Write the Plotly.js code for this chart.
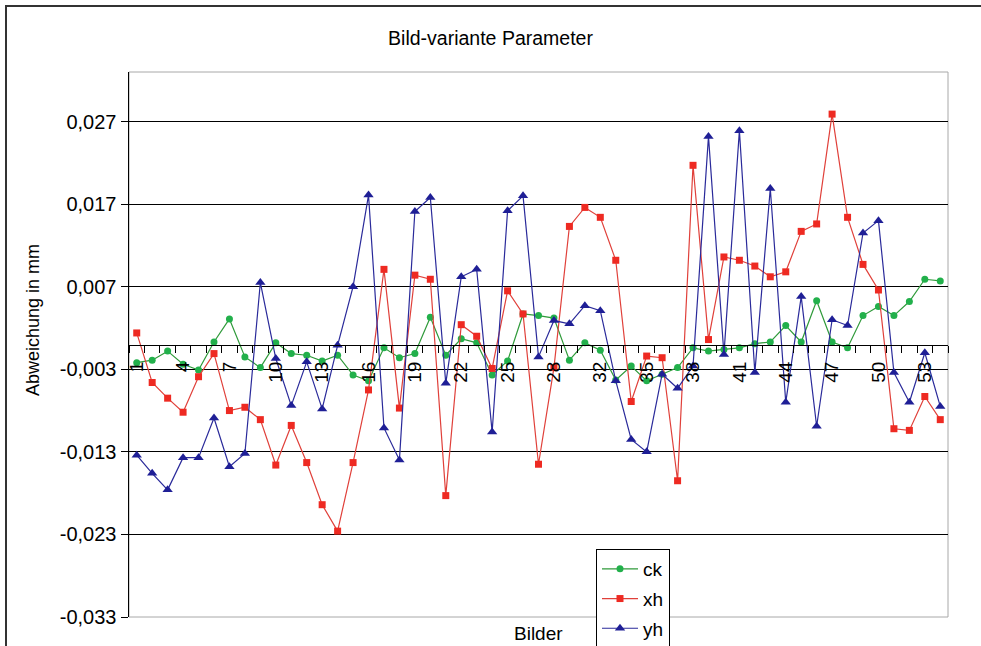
<!DOCTYPE html>
<html>
<head>
<meta charset="utf-8">
<script src="https://cdn.plot.ly/plotly-3.0.1.min.js"></script>
<style>
  html, body { margin: 0; padding: 0; background: #fff; overflow: hidden; }
  #chart { width: 981px; height: 646px; }
  #frame { position: absolute; left: 5px; top: 5px; width: 976px; height: 641px;
           border-left: 2px solid #333; border-top: 2px solid #333; pointer-events: none; box-sizing: border-box; }
</style>
</head>
<body>
<div id="chart"></div>
<div id="frame"></div>
<script>
// image numbers (one number between 28 and 32 is absent in the source)
const categories = ['1','2','3','4','5','6','7','8','9','10','11','12','13','14','15','16','17','18','19','20',
  '21','22','23','24','25','26','27','28','29','30','32','33','34','35','36','37','38','39','40','41',
  '42','43','44','45','46','47','48','49','50','51','52','53','54'];
// labelled every third image
const tickLabelNames = ['1','4','7','10','13','16','19','22','25','28','32','35','38','41','44','47','50','53'];

const ck = [-0.0022,-0.0019,-0.0008,-0.0024,-0.0031,0.0003,0.0031,-0.0015,-0.0028,0.0002,
  -0.0011,-0.0013,-0.0020,-0.0013,-0.0037,-0.0044,-0.0004,-0.0016,-0.0011,0.0033,
  -0.0013,0.0007,0.0002,-0.0037,-0.0020,0.0037,0.0035,0.0032,-0.0019,0.0002,
  -0.0007,-0.0043,-0.0026,-0.0044,-0.0036,-0.0028,-0.0004,-0.0008,-0.0006,-0.0004,
  0.0001,0.0003,0.0023,0.0003,0.0053,0.0003,-0.0004,0.0035,0.0046,0.0035,
  0.0052,0.0079,0.0077];
const xh = [0.0014,-0.0046,-0.0065,-0.0082,-0.0039,-0.0011,-0.0080,-0.0076,-0.0091,-0.0146,
  -0.0098,-0.0143,-0.0194,-0.0226,-0.0143,-0.0055,0.0091,-0.0077,0.0084,0.0079,
  -0.0183,0.0024,0.0010,-0.0029,0.0065,0.0037,-0.0145,-0.0028,0.0143,0.0166,
  0.0154,0.0102,-0.0069,-0.0014,-0.0016,-0.0165,0.0217,0.0006,0.0106,0.0102,
  0.0095,0.0082,0.0088,0.0137,0.0146,0.0279,0.0154,0.0097,0.0066,-0.0102,
  -0.0104,-0.0063,-0.0091];
const yh = [-0.0134,-0.0156,-0.0176,-0.0137,-0.0137,-0.0089,-0.0148,-0.0132,0.0075,-0.0017,
  -0.0074,-0.0021,-0.0078,-0.0001,0.0070,0.0181,-0.0101,-0.0140,0.0161,0.0178,
  -0.0047,0.0082,0.0091,-0.0106,0.0162,0.0180,-0.0015,0.0029,0.0025,0.0047,
  0.0041,-0.0044,-0.0115,-0.0130,-0.0036,-0.0053,-0.0026,0.0252,-0.0012,0.0259,
  -0.0034,0.0189,-0.0070,0.0058,-0.0099,0.0030,0.0023,0.0135,0.0150,-0.0034,
  -0.0070,-0.0010,-0.0075];

const yTickVals = [-0.033,-0.023,-0.013,-0.003,0.007,0.017,0.027];
const yTickText = ['-0,033','-0,023','-0,013','-0,003','0,007','0,017','0,027'];

const FONT = 'Arial, "Liberation Sans", sans-serif';

const traces = [
  {name:'ck', legendgroup:'g1', x:categories, y:ck, type:'scatter', mode:'lines+markers',
   line:{color:'#2f9a3a', width:1.2}, marker:{color:'#22b04b', size:7, symbol:'circle'}},
  {name:'xh', legendgroup:'g2', x:categories, y:xh, type:'scatter', mode:'lines+markers',
   line:{color:'#e0403a', width:1.2}, marker:{color:'#ee2a22', size:7, symbol:'square'}},
  {name:'yh', legendgroup:'g3', x:categories, y:yh, type:'scatter', mode:'lines+markers',
   line:{color:'#2a2a9a', width:1.2}, marker:{color:'#1f1f96', size:9, symbol:'triangle-up'}}
];

const layout = {
  width: 981, height: 646,
  margin: {l:129, r:33, t:72, b:29, autoexpand: false},
  paper_bgcolor: '#ffffff', plot_bgcolor: '#ffffff',
  font: {family: FONT, color: '#000', size: 18},
  showlegend: true,
  title: {text: 'Bild-variante Parameter', x: 0.5, xref: 'container', xanchor: 'center',
          y: 1 - 38/646, yref: 'container', yanchor: 'middle',
          font: {family: FONT, size: 19.5, color: '#000'}},
  xaxis: {
    type: 'category', categoryorder: 'array', categoryarray: categories,
    anchor: 'free', position: 0.5,
    tickmode: 'array', tickvals: categories,
    ticktext: categories.map(c => tickLabelNames.includes(c) ? c : ''),
    tickangle: -90, tickson: 'boundaries', ticks: 'outside', ticklen: 7, tickcolor: '#000', tickwidth: 1,
    ticklabelstandoff: 8,
    tickfont: {family: FONT, size: 19, color: '#000'},
    showline: true, linecolor: '#000', linewidth: 1.5, showgrid: false, zeroline: false,
    range: [-0.5, categories.length - 0.5]
  },
  yaxis: {
    range: [-0.033, 0.033], tickmode: 'array', tickvals: yTickVals, ticktext: yTickText,
    ticks: 'outside', ticklen: 7, tickcolor: '#000', tickwidth: 1,
    tickfont: {family: FONT, size: 20, color: '#000'},
    showline: true, linecolor: '#000', linewidth: 1.5,
    showgrid: true, gridcolor: '#000', gridwidth: 1, zeroline: false
  },
  shapes: [
    {type:'rect', xref:'paper', yref:'paper', x0:0, x1:1, y0:0, y1:1,
     line:{color:'#a8a8a8', width:1}, layer:'below'}
  ],
  annotations: [
    {text:'Bilder', xref:'paper', yref:'paper', x:0.5, y:-16/545, xanchor:'center', yanchor:'middle',
     showarrow:false, font:{family: FONT, size:19, color:'#000'}},
    {text:'Abweichung in mm', xref:'paper', yref:'paper', x:(33-129)/819, y:(617-320)/545, textangle:-90,
     xanchor:'center', yanchor:'middle', showarrow:false, font:{family: FONT, size:18, color:'#000'}}
  ],
  legend: {
    xref: 'container', yref: 'container',
    x: 596/981, y: 1 - 549/646, xanchor: 'left', yanchor: 'top',
    traceorder: 'grouped', tracegroupgap: 2, itemwidth: 36,
    bgcolor: '#ffffff', bordercolor: '#000', borderwidth: 1,
    font: {family: FONT, size: 19, color: '#000'}
  }
};

Plotly.newPlot('chart', traces, layout, {displayModeBar: false, staticPlot: true});
</script>
</body>
</html>
